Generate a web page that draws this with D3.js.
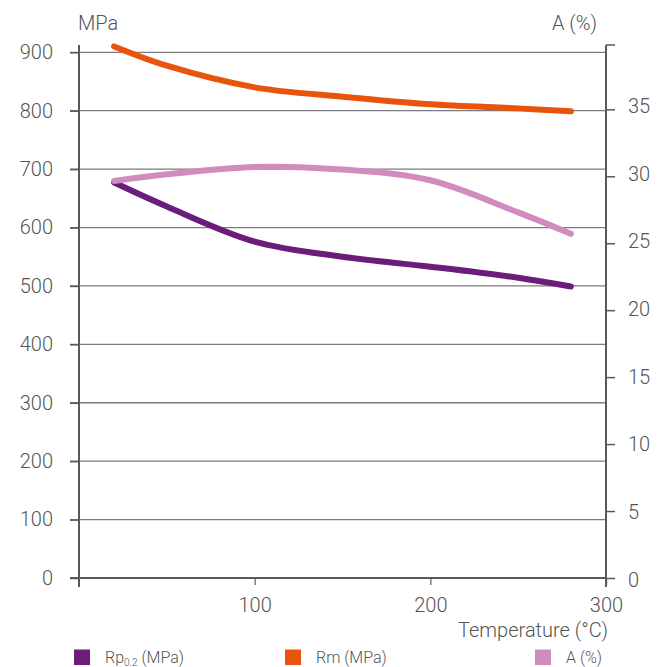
<!DOCTYPE html>
<html>
<head>
<meta charset="utf-8">
<script src="https://cdn.jsdelivr.net/npm/d3@7"></script>
<style>
  body { margin: 0; background: #fff; }
  text { font-family: Roboto, "Open Sans", sans-serif; font-weight: 300; fill: #555; }
</style>
</head>
<body>
<div id="chart"></div>
<script>
// temperature (°C)
const temps = [20, 50, 100, 150, 200, 250, 280];
// Rp0.2 (MPa)
const rpValues = [677, 636, 576, 550, 533, 514, 499];
// Rm (MPa)
const rmValues = [910, 877, 840, 824, 811, 804, 799];
// A (%)
const aValues = [29.65, 30.15, 30.7, 30.5, 29.7, 27.3, 25.7];

const xTicks = [100, 200, 300];
const leftTicks = [0, 100, 200, 300, 400, 500, 600, 700, 800, 900];
const rightTicks = [0, 5, 10, 15, 20, 25, 30, 35];

const width = 670, height = 667;
const plotLeft = 79, plotRight = 606, plotTop = 45, plotBottom = 578;

const svg = d3.select('#chart').append('svg')
    .attr('width', width)
    .attr('height', height);

const x = d3.scaleLinear().domain([0, 300]).range([plotLeft, plotRight]);
const yL = d3.scaleLinear().domain([0, 900]).range([plotBottom, 52.3]);
const yR = d3.scaleLinear().domain([0, 35]).range([plotBottom, 109.3]);
// right labels drift slightly from their ticks in the original
const yRLabel = d3.scaleLinear().domain([0, 35]).range([580, 106]);

// horizontal grid lines, extending past the left axis as ticks
svg.append('g')
    .selectAll('line')
    .data(leftTicks.slice(1))
    .join('line')
    .attr('x1', plotLeft - 9)
    .attr('x2', plotRight)
    .attr('y1', d => yL(d))
    .attr('y2', d => yL(d))
    .attr('stroke', '#7b7b80')
    .attr('stroke-width', 1.3);

// left axis labels
const gl = svg.append('g')
    .attr('transform', `translate(${plotLeft},0)`)
    .call(d3.axisLeft(yL).tickValues(leftTicks).tickSize(9).tickSizeOuter(0).tickPadding(17));
gl.select('.domain').remove();
gl.selectAll('.tick line').attr('stroke', '#555a60').attr('stroke-width', 1.5);
gl.selectAll('.tick text').style('font-size', '20px').attr('fill', '#555');

// right axis
const gr = svg.append('g')
    .attr('transform', `translate(${plotRight},0)`)
    .call(d3.axisRight(yR).tickValues(rightTicks).tickSize(9).tickSizeOuter(0).tickPadding(13));
gr.select('.domain').remove();
gr.selectAll('.tick line').attr('stroke', '#555a60').attr('stroke-width', 1.5);
gr.selectAll('.tick text').style('font-size', '20px').attr('fill', '#555')
    .attr('y', d => yRLabel(d) - yR(d));
svg.append('line')
    .attr('x1', plotRight).attr('x2', plotRight + 9)
    .attr('y1', plotTop).attr('y2', plotTop)
    .attr('stroke', '#555a60').attr('stroke-width', 1.5);

// bottom axis
const gx = svg.append('g')
    .attr('transform', `translate(0,${plotBottom})`)
    .call(d3.axisBottom(x).tickValues(xTicks).tickSize(7).tickSizeOuter(0).tickPadding(13));
gx.select('.domain').remove();
gx.selectAll('.tick line').attr('stroke', '#7b7b80').attr('stroke-width', 1.5);
gx.selectAll('.tick text').style('font-size', '20px').attr('fill', '#555');

// axis lines
svg.append('line')
    .attr('x1', plotLeft - 9).attr('x2', plotRight)
    .attr('y1', plotBottom).attr('y2', plotBottom)
    .attr('stroke', '#555a60').attr('stroke-width', 2);
svg.append('line')
    .attr('x1', plotLeft).attr('x2', plotLeft)
    .attr('y1', plotTop).attr('y2', plotBottom + 9)
    .attr('stroke', '#555a60').attr('stroke-width', 2);
svg.append('line')
    .attr('x1', plotRight).attr('x2', plotRight)
    .attr('y1', plotTop).attr('y2', plotBottom + 9)
    .attr('stroke', '#555a60').attr('stroke-width', 2);

// series
const series = [
    { values: rpValues, scale: yL, color: '#6a1d7a' },
    { values: rmValues, scale: yL, color: '#e9540d' },
    { values: aValues, scale: yR, color: '#d18bbd' }
];

series.forEach(s => {
    const line = d3.line()
        .x((d, i) => x(temps[i]))
        .y(d => s.scale(d))
        .curve(d3.curveCatmullRom.alpha(0.5));
    svg.append('path')
        .datum(s.values)
        .attr('d', line)
        .attr('fill', 'none')
        .attr('stroke', s.color)
        .attr('stroke-width', 6)
        .attr('stroke-linecap', 'round');
});

// axis titles
svg.append('text').attr('x', 78).attr('y', 30).style('font-size', '20px').text('MPa');
svg.append('text').attr('x', 597).attr('y', 30).attr('text-anchor', 'end')
    .style('font-size', '20px').text('A (%)');
svg.append('text').attr('x', 608).attr('y', 637).attr('text-anchor', 'end')
    .style('font-size', '20px').text('Temperature (°C)');

// legend
const legend = [
    { x: 74, color: '#6a1d7a', label: 'Rp', sub: '0.2', rest: ' (MPa)' },
    { x: 285, color: '#e9540d', label: 'Rm (MPa)' },
    { x: 535, color: '#d18bbd', label: 'A (%)' }
];

legend.forEach(l => {
    svg.append('rect')
        .attr('x', l.x).attr('y', 649.5)
        .attr('width', 16).attr('height', 15.5)
        .attr('fill', l.color);
    const t = svg.append('text')
        .attr('x', l.x + 31).attr('y', 663)
        .style('font-size', '16px')
        .text(l.label);
    if (l.sub) {
        t.append('tspan').attr('dy', 2.5).style('font-size', '10px').text(l.sub);
        t.append('tspan').attr('dy', -2.5).text(l.rest);
    }
});
</script>
</body>
</html>
